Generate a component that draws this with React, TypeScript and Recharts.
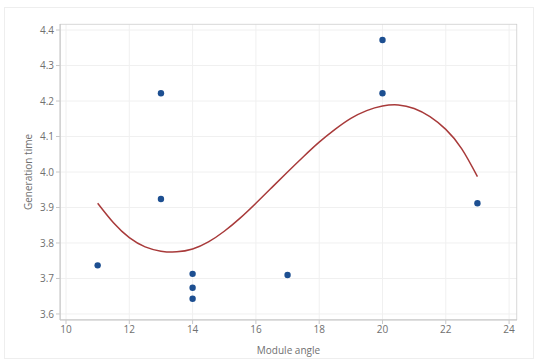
import {
  ComposedChart,
  CartesianGrid,
  Line,
  ReferenceArea,
  Scatter,
  XAxis,
  YAxis,
} from 'recharts';

// observed points (Module angle, Generation time)
const angle = [11, 13, 13, 14, 14, 14, 17, 20, 20, 23];
const genTime = [3.737, 4.222, 3.924, 3.713, 3.674, 3.643, 3.71, 4.372, 4.222, 3.912];

// fitted curve
const fitX = [11, 11.5, 12, 12.5, 13, 13.5, 14, 14.5, 15, 15.5, 16, 16.5, 17, 17.5, 18, 18.5, 19, 19.5, 20, 20.5, 21, 21.5, 22, 22.5, 23];
const fitY = [3.912, 3.857, 3.815, 3.789, 3.777, 3.775, 3.783, 3.803, 3.833, 3.87, 3.912, 3.956, 4.0, 4.043, 4.084, 4.12, 4.151, 4.173, 4.186, 4.189, 4.179, 4.156, 4.12, 4.066, 3.987];

const xTicks = [10, 12, 14, 16, 18, 20, 22, 24];
const yTicks = [3.6, 3.7, 3.8, 3.9, 4.0, 4.1, 4.2, 4.3, 4.4];

const X_DOMAIN: [number, number] = [9.81, 24.25];
const Y_DOMAIN: [number, number] = [3.583, 4.417];

const points = angle.map((a, i) => ({ x: a, y: genTime[i] }));
const curve = fitX.map((a, i) => ({ x: a, y: fitY[i] }));

const font = 'Open Sans, sans-serif';
const tickStyle = { fontSize: 10, fill: '#707070', fontFamily: font };

const Dot = (props: any) => {
  const { cx, cy } = props;
  return <circle cx={cx} cy={cy} r={3.2} fill="#1d4f91" />;
};

export default function App() {
  return (
    <div
      style={{
        position: 'absolute',
        left: 0,
        top: 0,
        width: 537,
        height: 362,
        background: '#fff',
      }}
    >
      <div
        style={{
          position: 'absolute',
          left: 4,
          top: 7,
          width: 528,
          height: 350,
          border: '1px solid #eeeeee',
        }}
      />
      <ComposedChart
        width={537}
        height={362}
        margin={{ top: 24, right: 20, left: 0, bottom: 0 }}
      >
        <CartesianGrid stroke="#f0f0f0" vertical horizontal />
        <XAxis
          type="number"
          dataKey="x"
          domain={X_DOMAIN}
          ticks={xTicks}
          allowDataOverflow
          height={42}
          tick={tickStyle}
          tickSize={4}
          stroke="#c8c8c8"
          tickFormatter={(v) => String(v)}
          label={{
            value: 'Module angle',
            position: 'insideBottom',
            offset: 8,
            style: { fontSize: 10, fill: '#707070', fontFamily: font },
          }}
        />
        <YAxis
          type="number"
          dataKey="y"
          domain={Y_DOMAIN}
          ticks={yTicks}
          allowDataOverflow
          width={60}
          tick={tickStyle}
          tickSize={4}
          stroke="#c8c8c8"
          tickFormatter={(v) => v.toFixed(1)}
          label={{
            value: 'Generation time',
            angle: -90,
            position: 'insideLeft',
            offset: 28,
            style: { fontSize: 10, fill: '#707070', fontFamily: font, textAnchor: 'middle' },
          }}
        />
        <ReferenceArea
          x1={X_DOMAIN[0]}
          x2={X_DOMAIN[1]}
          y1={Y_DOMAIN[0]}
          y2={Y_DOMAIN[1]}
          fill="none"
          stroke="#c8c8c8"
          ifOverflow="hidden"
        />
        <Line
          data={curve}
          dataKey="y"
          type="natural"
          stroke="#a83a3a"
          strokeWidth={1.5}
          dot={false}
          isAnimationActive={false}
        />
        <Scatter data={points} dataKey="y" shape={<Dot />} isAnimationActive={false} />
      </ComposedChart>
    </div>
  );
}
